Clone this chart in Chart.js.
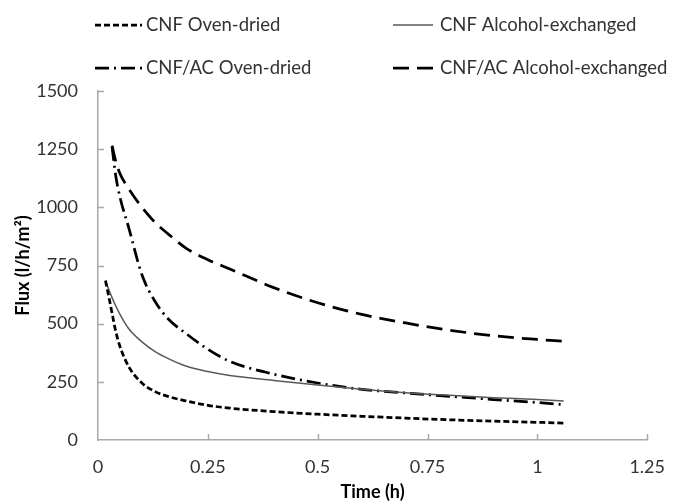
<!DOCTYPE html>
<html>
<head>
<meta charset="utf-8">
<title>Flux vs time</title>
<script src="https://cdn.jsdelivr.net/npm/chart.js@4.4.1/dist/chart.umd.min.js"></script>
<style>
  html, body { margin: 0; padding: 0; background: #fff; }
  canvas { display: block; }
</style>
</head>
<body>
<canvas id="fluxChart" width="681" height="504"></canvas>
<script>
// time (h), shared by the four runs
const times = [0.017, 0.025, 0.032, 0.04, 0.05, 0.07, 0.1, 0.13, 0.16, 0.2, 0.25, 0.3, 0.4, 0.5, 0.6, 0.7, 0.8, 0.9, 1.0, 1.06];

// flux (l/h/m2), null where the run had not started
const cnfOven = [685, 612, 545, 470, 402, 315, 245, 208, 187, 168, 149, 137, 122, 111, 102, 94, 87, 81, 76, 73];
const cnfAlcohol = [685, 645, 612, 578, 540, 478, 422, 380, 350, 318, 294, 277, 256, 236, 218, 203, 192, 182, 174, 168];
const acOven = [null, null, 1260, 1140, 1044, 912, 710, 595, 520, 458, 390, 338, 283, 245, 218, 202, 188, 174, 161, 152];
const acAlcohol = [null, null, 1265, 1200, 1145, 1080, 1000, 935, 885, 825, 775, 735, 655, 590, 540, 503, 472, 448, 432, 424];

const seriesNames = ["CNF Oven-dried", "CNF Alcohol-exchanged", "CNF/AC Oven-dried", "CNF/AC Alcohol-exchanged"];
const xTicks = [0, 0.25, 0.5, 0.75, 1, 1.25];
const yTicks = [0, 250, 500, 750, 1000, 1250, 1500];

const axisColor = "#a9a9a9";
const textColor = "#333333";
const fontName = "Lato";

function toPoints(values) {
  const pts = [];
  values.forEach((v, i) => {
    if (v !== null) pts.push({ x: times[i], y: v });
  });
  return pts;
}

function makeSet(label, values, color, width, dash) {
  return {
    label: label,
    data: toPoints(values),
    borderColor: color,
    borderWidth: width,
    borderDash: dash,
    pointRadius: 0,
    fill: false,
    cubicInterpolationMode: "monotone",
  };
}

// small tick marks pointing into the plot, like the original
const innerTicks = {
  id: "innerTicks",
  beforeDatasetsDraw(chart) {
    const ctx = chart.ctx;
    const x = chart.scales.x;
    const y = chart.scales.y;
    ctx.save();
    ctx.strokeStyle = axisColor;
    ctx.lineWidth = 1.5;
    ctx.beginPath();
    xTicks.forEach((v) => {
      if (v === 0) return;
      const px = Math.round(x.getPixelForValue(v)) + 0.5;
      ctx.moveTo(px, y.bottom);
      ctx.lineTo(px, y.bottom - 6);
    });
    yTicks.forEach((v) => {
      if (v === 0) return;
      const py = Math.round(y.getPixelForValue(v)) + 0.5;
      ctx.moveTo(x.left, py);
      ctx.lineTo(x.left + 6, py);
    });
    ctx.stroke();
    ctx.restore();
  },
};

// legend laid out as two columns
const gridLegend = {
  id: "gridLegend",
  afterDraw(chart) {
    const ctx = chart.ctx;
    const cols = [
      { x: 95, w: 47, tx: 146 },
      { x: 393, w: 40, tx: 440 },
    ];
    const rows = [25, 68];
    chart.data.datasets.forEach((ds, i) => {
      const c = cols[i % 2];
      const yy = rows[Math.floor(i / 2)];
      ctx.save();
      ctx.strokeStyle = ds.borderColor;
      ctx.lineWidth = ds.borderWidth;
      ctx.setLineDash(ds.borderDash || []);
      ctx.beginPath();
      ctx.moveTo(c.x, yy);
      ctx.lineTo(c.x + c.w, yy);
      ctx.stroke();
      ctx.setLineDash([]);
      ctx.fillStyle = textColor;
      ctx.font = "18.5px " + fontName;
      ctx.textBaseline = "middle";
      ctx.fillText(ds.label, c.tx, yy);
      ctx.restore();
    });
  },
};

const datasets = [
  makeSet(seriesNames[0], cnfOven, "#000000", 2.75, [6, 3]),
  makeSet(seriesNames[1], cnfAlcohol, "#595959", 1.5, []),
  makeSet(seriesNames[2], acOven, "#000000", 2.75, [14, 5, 2, 5]),
  makeSet(seriesNames[3], acAlcohol, "#000000", 2.75, [16, 8]),
];

new Chart(document.getElementById("fluxChart"), {
  type: "line",
  data: { datasets },
  plugins: [innerTicks, gridLegend],
  options: {
    responsive: false,
    animation: false,
    layout: { padding: { top: 91, right: 29, left: 0, bottom: 0 } },
    plugins: {
      legend: { display: false },
      tooltip: { enabled: false },
    },
    scales: {
      x: {
        type: "linear",
        min: 0,
        max: 1.25,
        afterBuildTicks: (scale) => {
          scale.ticks = xTicks.map((v) => ({ value: v }));
        },
        afterFit: (scale) => {
          scale.height = 64;
        },
        grid: { display: false, drawTicks: false },
        border: { color: axisColor, width: 1.5 },
        ticks: {
          color: textColor,
          font: { family: fontName, size: 18 },
          padding: 16,
          maxRotation: 0,
          callback: (v) => String(v),
        },
        title: {
          display: true,
          text: "Time (h)",
          color: "#000000",
          font: { family: fontName, size: 18, weight: "bold" },
          padding: { top: 1, bottom: 1 },
        },
      },
      y: {
        min: 0,
        max: 1500,
        afterBuildTicks: (scale) => {
          scale.ticks = yTicks.map((v) => ({ value: v }));
        },
        afterFit: (scale) => {
          scale.width = 98;
        },
        grid: { display: false, drawTicks: false },
        border: { color: axisColor, width: 1.5 },
        ticks: {
          color: textColor,
          font: { family: fontName, size: 18 },
          padding: 20,
          callback: (v) => String(v),
        },
        title: {
          display: true,
          text: "Flux (l/h/m²)",
          color: "#000000",
          font: { family: fontName, size: 18, weight: "bold" },
          padding: { top: 12, bottom: 12 },
        },
      },
    },
  },
});
</script>
</body>
</html>
